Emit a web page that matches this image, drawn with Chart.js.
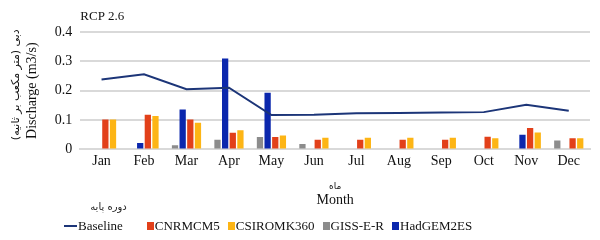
<!DOCTYPE html>
<html>
<head>
<meta charset="utf-8">
<script src="https://cdn.jsdelivr.net/npm/chart.js@4/dist/chart.umd.min.js"></script>
<style>
  html, body { margin: 0; padding: 0; background: #fff; }
  #wrap { position: relative; width: 600px; height: 240px; }
  #legend {
    position: absolute; left: 64px; top: 218px;
    display: flex; align-items: center;
    font: 13px 'Liberation Serif', serif; color: #111;
  }
  #legend .item { display: flex; align-items: center; margin-right: 8px; position: relative; }
  #legend .item.first { margin-right: 24px; }
  #legend .sw { width: 7px; height: 8px; margin-right: 1px; }
  #legend .ln { width: 13px; height: 2px; margin-right: 1px; }
  #legend .fa {
    position: absolute; right: -4px; top: -17px;
    font: 10px 'DejaVu Sans', sans-serif; color: #222; white-space: nowrap;
  }
</style>
</head>
<body>
<div id="wrap">
  <canvas id="c" width="600" height="240"></canvas>
  <div id="legend"></div>
</div>
<script>
/* RCP 2.6 — monthly discharge, baseline vs GCMs */

const MONTHS = ['Jan', 'Feb', 'Mar', 'Apr', 'May', 'Jun', 'Jul', 'Aug', 'Sep', 'Oct', 'Nov', 'Dec'];

const BASELINE = [0.238, 0.256, 0.205, 0.210, 0.117, 0.118, 0.123, 0.124, 0.126, 0.127, 0.152, 0.132];
const GISS     = [0, 0, 0.014, 0.033, 0.042, 0.018, 0, 0, 0, 0, 0, 0.030];
const HADGEM   = [0, 0.022, 0.136, 0.310, 0.193, 0, 0, 0, 0, 0, 0.050, 0];
const CNRM     = [0.102, 0.118, 0.102, 0.057, 0.042, 0.033, 0.033, 0.033, 0.033, 0.043, 0.073, 0.038];
const CSIRO    = [0.102, 0.114, 0.091, 0.065, 0.047, 0.040, 0.040, 0.040, 0.040, 0.038, 0.058, 0.038];

const Y_TICKS = [0, 0.1, 0.2, 0.3, 0.4];

const NAVY = '#1c3578';
const RED = '#e2401a';
const GOLD = '#fdb515';
const GRAY = '#8c8c8c';
const BLUE = '#0b27ad';
const GRID = '#d9d9d9';
const SERIF = "'Liberation Serif', 'DejaVu Sans', serif";
const FA_FONT = "'DejaVu Sans', sans-serif";

// title and the small Persian captions of the axes
const extraText = {
  id: 'extraText',
  afterDraw(chart) {
    const ctx = chart.ctx;
    const a = chart.chartArea;
    const x = chart.scales.x;
    ctx.save();
    ctx.fillStyle = '#111';
    ctx.textBaseline = 'middle';
    ctx.font = '13px ' + SERIF;
    ctx.fillText('RCP 2.6', a.left, 17);

    ctx.font = '9px ' + FA_FONT;
    ctx.textAlign = 'center';
    ctx.fillText('ماه', (a.left + a.right) / 2, x.bottom - 22);

    ctx.translate(16, (a.top + a.bottom) / 2 - 6);
    ctx.rotate(-Math.PI / 2);
    ctx.font = '11px ' + FA_FONT;
    ctx.fillText('دبی (متر مکعب بر ثانیه)', 0, 0);
    ctx.restore();
  }
};

const chart = new Chart(document.getElementById('c'), {
  data: {
    labels: MONTHS,
    datasets: [
      { type: 'line', label: 'Baseline', data: BASELINE, borderColor: NAVY, backgroundColor: NAVY,
        borderWidth: 2, pointRadius: 0, tension: 0, order: 0, fa: 'دوره پایه' },
      { type: 'bar', label: 'GISS-E-R', data: GISS, backgroundColor: GRAY, order: 1 },
      { type: 'bar', label: 'HadGEM2ES', data: HADGEM, backgroundColor: BLUE, order: 1 },
      { type: 'bar', label: 'CNRMCM5', data: CNRM, backgroundColor: RED, order: 1 },
      { type: 'bar', label: 'CSIROMK360', data: CSIRO, backgroundColor: GOLD, order: 1 },
    ]
  },
  options: {
    responsive: false,
    animation: false,
    datasets: { bar: { categoryPercentage: 0.72, barPercentage: 0.82 } },
    layout: { padding: { top: 32, right: 10, bottom: 31, left: 24 } },
    plugins: { legend: { display: false }, tooltip: { enabled: false } },
    scales: {
      x: {
        grid: { display: false, drawTicks: false, tickLength: 0 },
        border: { color: GRID, width: 2 },
        ticks: { color: '#111', font: { family: SERIF, size: 14 }, padding: 4 },
        title: {
          display: true, text: 'Month', color: '#111',
          font: { family: SERIF, size: 14 }, padding: { top: 18, bottom: 0 }
        }
      },
      y: {
        min: 0, max: 0.4,
        afterBuildTicks: s => { s.ticks = Y_TICKS.map(v => ({ value: v })); },
        grid: { color: GRID, lineWidth: 2, drawTicks: false },
        border: { display: false },
        ticks: { color: '#111', font: { family: SERIF, size: 14 }, padding: 8 },
        title: {
          display: true, text: 'Discharge (m3/s)', color: '#111',
          font: { family: SERIF, size: 14 }, padding: { top: 0, bottom: 6 }
        }
      }
    }
  },
  plugins: [extraText]
});

// legend in the reference's order
const LEGEND_ORDER = ['Baseline', 'CNRMCM5', 'CSIROMK360', 'GISS-E-R', 'HadGEM2ES'];
const legend = document.getElementById('legend');
LEGEND_ORDER.forEach((name, i) => {
  const ds = chart.data.datasets.find(d => d.label === name);
  const item = document.createElement('div');
  item.className = 'item' + (i === 0 ? ' first' : '');
  const mark = document.createElement('span');
  mark.className = ds.type === 'line' ? 'ln' : 'sw';
  mark.style.background = ds.type === 'line' ? ds.borderColor : ds.backgroundColor;
  item.appendChild(mark);
  item.appendChild(document.createTextNode(name));
  if (ds.fa) {
    const fa = document.createElement('span');
    fa.className = 'fa';
    fa.textContent = ds.fa;
    item.appendChild(fa);
  }
  legend.appendChild(item);
});
</script>
</body>
</html>
